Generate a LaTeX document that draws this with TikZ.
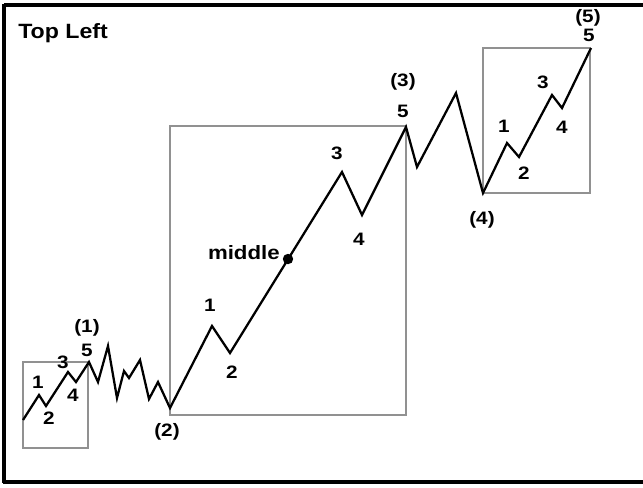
\documentclass[tikz,border=0pt]{standalone}
\usepackage{fontspec}
\setmainfont{Liberation Sans}
\definecolor{boxgray}{RGB}{145,145,145}
\tikzset{
  wave/.style={line width=1.7pt,line join=miter},
  subbox/.style={draw=boxgray,line width=1.2pt},
  lbl/.style={inner sep=0pt,font=\bfseries\fontsize{13.5}{15}\selectfont,xscale=1.15},
}
\begin{document}
\begin{tikzpicture}[x=0.75pt,y=-0.75pt]
\useasboundingbox (0,0) rectangle (643,487);
% frame
\draw[line width=2.6pt](4,5)--(643,5);
\draw[line width=2.6pt](4,4)--(4,483);
\draw[line width=2.6pt](3,482)--(643,482);
\node[anchor=base west,inner sep=0pt,font=\bfseries\fontsize{15.5}{18}\selectfont,xscale=1.12](title)at(18,38){Top Left};
% boxes
\draw[subbox](23,362)rectangle(88,448);
\draw[subbox](170,126)rectangle(406,415);
\draw[subbox](483,48)rectangle(590,193);
% wave points
\coordinate(s0)at(23,420);
\coordinate(s1)at(39,395);
\coordinate(s2)at(46,406);
\coordinate(s3)at(68,372);
\coordinate(s4)at(76,382);
\coordinate(w1)at(89,362);
\coordinate(c1)at(98,382);
\coordinate(c2)at(108,346);
\coordinate(c3)at(117,398);
\coordinate(c4)at(124,371);
\coordinate(c5)at(129,378);
\coordinate(c6)at(140,360);
\coordinate(c7)at(149,399);
\coordinate(c8)at(158,382);
\coordinate(w2)at(170,408);
\coordinate(m1)at(212,326);
\coordinate(m2)at(230,353);
\coordinate(m3)at(342,172);
\coordinate(m4)at(362,215);
\coordinate(w3)at(406,127);
\coordinate(d1)at(417,167);
\coordinate(d2)at(456,93);
\coordinate(w4)at(483,193);
\coordinate(r1)at(507,143);
\coordinate(r2)at(519,157);
\coordinate(r3)at(552,95);
\coordinate(r4)at(562,108);
\coordinate(w5)at(591,48);
\draw[wave](s0)--(s1)--(s2)--(s3)--(s4)--(w1)--(c1)--(c2)--(c3)--(c4)--(c5)--(c6)--(c7)--(c8)
  --(w2)--(m1)--(m2)--(m3)--(m4)--(w3)--(d1)--(d2)--(w4)--(r1)--(r2)--(r3)--(r4)--(w5);
\coordinate(mid)at(288,259);
\fill(mid)circle(3.9pt);
\node[lbl,anchor=east,font=\bfseries\fontsize{14.5}{16}\selectfont,xscale=1.0](midlbl)at(280,253){middle};
% labels
\node[lbl](ls1)at(38,382){1};
\node[lbl](ls2)at(49,418){2};
\node[lbl](ls3)at(63,362){3};
\node[lbl](ls4)at(73,395){4};
\node[lbl](ls5)at(87,350){5};
\node[lbl](lw1)at(87,328){(1)};
\node[lbl](lw2)at(167,432){(2)};
\node[lbl](lm1)at(210,305){1};
\node[lbl](lm2)at(232,372){2};
\node[lbl](lm3)at(337,153){3};
\node[lbl](lm4)at(359,239){4};
\node[lbl](lm5)at(403,111){5};
\node[lbl](lw3)at(403,82){(3)};
\node[lbl](lr1)at(504,126){1};
\node[lbl](lr2)at(524,173){2};
\node[lbl](lr3)at(543,82){3};
\node[lbl](lr4)at(562,127){4};
\node[lbl](lr5)at(589,35){5};
\node[lbl](lw5)at(588,18){(5)};
\node[lbl](lw4)at(482,220){(4)};
\end{tikzpicture}
\end{document}
